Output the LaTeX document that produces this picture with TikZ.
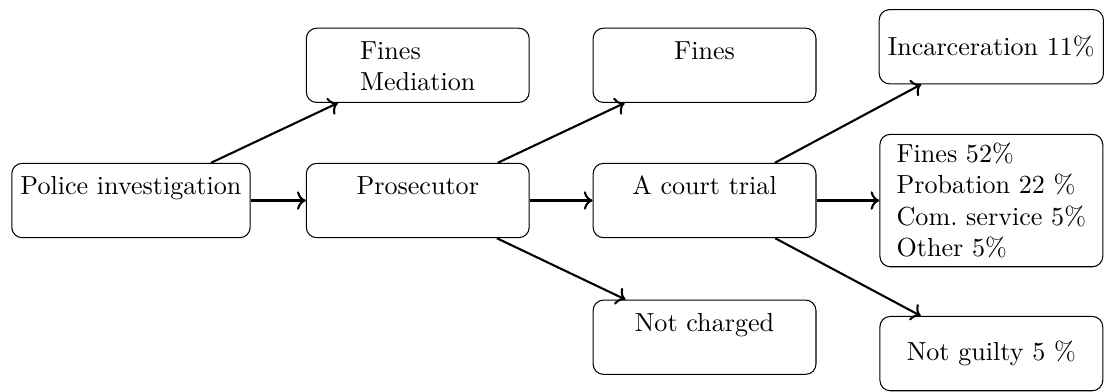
\documentclass[tikz,border=0pt]{standalone}
\usetikzlibrary{arrows.meta,positioning}

\begin{document}
\begin{tikzpicture}[node distance= 3.86cm]
      \useasboundingbox (-1.763,-2.564) rectangle (13.137,2.699);
      \begin{scope}[every node/.style={draw,rounded corners,minimum width=3cm},
        stage/.style={text height=8.6pt,text depth=13.2pt},
        outcome/.style={minimum height=1cm}]
        \node (police)[stage] at (0,0) {Police investigation};
        \node (pros)[stage] [right of= police] {Prosecutor};
        \node (court)[stage] [right of= pros] {A court trial};
        \node (sanct)[align=left] [right of= court] {Fines 52\%\\Probation 22 \%\\Com.\ service 5\%\\Other 5\%};
        \node (medi)[align=left,text height=20.6pt,text depth=1.2pt] [above of= pros,node distance=1.82cm] {Fines\\Mediation};
        \node (fines)[stage] [above of= court,node distance=1.82cm] {Fines};
        \node (notch)[stage] [below of= court,node distance=1.84cm] {Not charged};
        \node (prison)[outcome] [above of= sanct,node distance=2.07cm] {Incarceration 11\%};
        \node (acquit)[outcome] [below of= sanct,node distance=2.06cm] {Not guilty 5 \%};
      \end{scope}
      \begin{scope}
        [every edge/.style={draw= black, thick, ->}]
        \path (police) edge (pros);
        \path (police) edge (medi);
        \path (pros) edge (court);
        \path (pros) edge (fines);
        \path (pros) edge (notch);
        \path (court) edge (sanct);
        \path (court) edge (prison);
        \path (court) edge (acquit);
      \end{scope}
    \end{tikzpicture}
\end{document}
